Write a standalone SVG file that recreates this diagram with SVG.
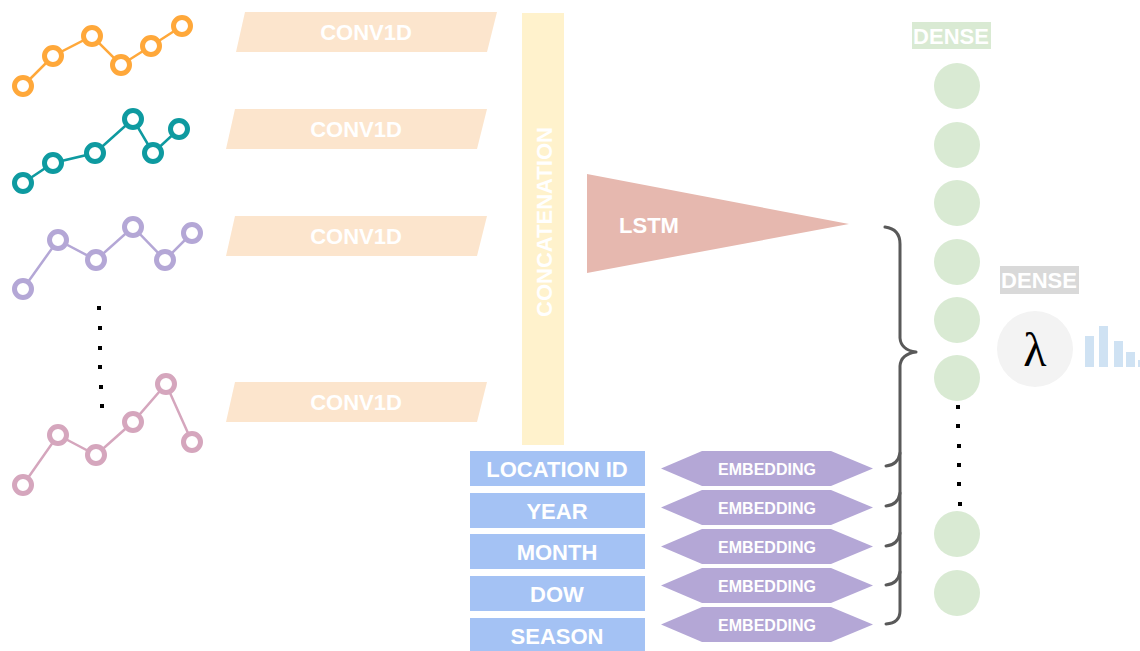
<svg xmlns="http://www.w3.org/2000/svg" width="1140" height="651" viewBox="0 0 1140 651">
<defs>
<style>
.t{font-family:"Liberation Sans",Arial,sans-serif;font-weight:bold;fill:#ffffff;text-anchor:middle;dominant-baseline:central}
.big{font-size:22px}
.emb{font-size:16px}
.conv{fill:#FCE5CD}
.blue{fill:#A4C2F4}
.hex{fill:#B4A7D6}
.green{fill:#D9EAD3}
.bar{fill:#CFE2F3}
.ser{fill:none;stroke-width:2.5}
.pt{fill:#ffffff;stroke-width:5}
.br{fill:none;stroke:#595959;stroke-width:3;stroke-linecap:round;stroke-linejoin:round}
.dot{fill:#000000}
</style>
</defs>
<rect width="1140" height="651" fill="#ffffff"/>

<g id="series1">
<polyline class="ser" stroke="#FFA83A" points="23,86 53,56 92,36 121,65 151,46 182,26"/>
<g class="pt" stroke="#FFA83A">
<circle cx="23" cy="86" r="8.5"/><circle cx="53" cy="56" r="8.5"/><circle cx="92" cy="36" r="8.5"/><circle cx="121" cy="65" r="8.5"/><circle cx="151" cy="46" r="8.5"/><circle cx="182" cy="26" r="8.5"/>
</g>
</g>
<g id="series2">
<polyline class="ser" stroke="#0E9AA0" points="23,183 53,163 95,153 133,119 153,153 179,129"/>
<g class="pt" stroke="#0E9AA0">
<circle cx="23" cy="183" r="8.5"/><circle cx="53" cy="163" r="8.5"/><circle cx="95" cy="153" r="8.5"/><circle cx="133" cy="119" r="8.5"/><circle cx="153" cy="153" r="8.5"/><circle cx="179" cy="129" r="8.5"/>
</g>
</g>
<g id="series3">
<polyline class="ser" stroke="#B4A7D6" points="23,289 58,240 96,260 133,227 165,260 192,233"/>
<g class="pt" stroke="#B4A7D6">
<circle cx="23" cy="289" r="8.5"/><circle cx="58" cy="240" r="8.5"/><circle cx="96" cy="260" r="8.5"/><circle cx="133" cy="227" r="8.5"/><circle cx="165" cy="260" r="8.5"/><circle cx="192" cy="233" r="8.5"/>
</g>
</g>
<g id="series-dots">
<rect class="dot" x="97" y="306" width="4" height="4"/><rect class="dot" x="98" y="326" width="4" height="4"/><rect class="dot" x="98" y="346" width="4" height="4"/><rect class="dot" x="98" y="365" width="4" height="4"/><rect class="dot" x="99" y="385" width="4" height="4"/><rect class="dot" x="100" y="404" width="4" height="4"/>
</g>
<g id="series4">
<polyline class="ser" stroke="#D5A6BD" points="23,485 58,435 96,455 133,422 166,384 192,442"/>
<g class="pt" stroke="#D5A6BD">
<circle cx="23" cy="485" r="8.5"/><circle cx="58" cy="435" r="8.5"/><circle cx="96" cy="455" r="8.5"/><circle cx="133" cy="422" r="8.5"/><circle cx="166" cy="384" r="8.5"/><circle cx="192" cy="442" r="8.5"/>
</g>
</g>

<g id="conv1">
<polygon class="conv" points="245,12 497,12 487,52 236,52"/>
<text class="t big" x="366" y="32">CONV1D</text>
</g>
<g id="conv2">
<polygon class="conv" points="235,109 487,109 477,149 226,149"/>
<text class="t big" x="356" y="129">CONV1D</text>
</g>
<g id="conv3">
<polygon class="conv" points="235,216 487,216 477,256 226,256"/>
<text class="t big" x="356" y="236">CONV1D</text>
</g>
<g id="conv4">
<polygon class="conv" points="235,382 487,382 477,422 226,422"/>
<text class="t big" x="356" y="402">CONV1D</text>
</g>

<g id="concatenation">
<rect x="522" y="13" width="42" height="432" fill="#FFF2CC"/>
<text class="t big" transform="translate(544,222) rotate(-90)">CONCATENATION</text>
</g>

<g id="lstm">
<polygon points="587,174 849,224 587,273" fill="#E6B8AF"/>
<text class="t big" x="649" y="225">LSTM</text>
</g>

<g id="in-location">
<rect class="blue" x="470" y="451" width="175" height="35"/>
<text class="t big" x="557" y="469">LOCATION ID</text>
</g>
<g id="in-year">
<rect class="blue" x="470" y="493" width="175" height="35"/>
<text class="t big" x="557" y="511">YEAR</text>
</g>
<g id="in-month">
<rect class="blue" x="470" y="534" width="175" height="35"/>
<text class="t big" x="557" y="552">MONTH</text>
</g>
<g id="in-dow">
<rect class="blue" x="470" y="576" width="175" height="35"/>
<text class="t big" x="557" y="594">DOW</text>
</g>
<g id="in-season">
<rect class="blue" x="470" y="618" width="175" height="35"/>
<text class="t big" x="557" y="636">SEASON</text>
</g>

<g id="emb1">
<polygon class="hex" points="661,468.5 702,451 831,451 873,468.5 831,486 702,486"/>
<text class="t emb" x="767" y="469">EMBEDDING</text>
</g>
<g id="emb2">
<polygon class="hex" points="661,507.5 702,490 831,490 873,507.5 831,525 702,525"/>
<text class="t emb" x="767" y="508">EMBEDDING</text>
</g>
<g id="emb3">
<polygon class="hex" points="661,546.5 702,529 831,529 873,546.5 831,564 702,564"/>
<text class="t emb" x="767" y="547">EMBEDDING</text>
</g>
<g id="emb4">
<polygon class="hex" points="661,585.5 702,568 831,568 873,585.5 831,603 702,603"/>
<text class="t emb" x="767" y="586">EMBEDDING</text>
</g>
<g id="emb5">
<polygon class="hex" points="661,624.5 702,607 831,607 873,624.5 831,642 702,642"/>
<text class="t emb" x="767" y="625">EMBEDDING</text>
</g>

<g id="connectors">
<path class="br" d="M885,227 Q900,229 900,244 L900,338 Q901,350 916,352 Q901,354 900,366 L900,611 Q900,623 886,624"/>
<path class="br" d="M886,466 Q898,465 900,453"/>
<path class="br" d="M886,506 Q898,505 900,493"/>
<path class="br" d="M886,546 Q898,545 900,533"/>
<path class="br" d="M886,585 Q898,584 900,572"/>
</g>

<g id="dense1">
<rect x="912" y="22" width="79" height="27" fill="#D9EAD3"/>
<text class="t big" x="951" y="36">DENSE</text>
<circle class="green" cx="957" cy="86" r="23"/>
<circle class="green" cx="957" cy="145" r="23"/>
<circle class="green" cx="957" cy="203" r="23"/>
<circle class="green" cx="957" cy="262" r="23"/>
<circle class="green" cx="957" cy="320" r="23"/>
<circle class="green" cx="957" cy="378" r="23"/>
<rect class="dot" x="956" y="405" width="4" height="4"/><rect class="dot" x="956" y="424" width="4" height="4"/><rect class="dot" x="957" y="444" width="4" height="4"/><rect class="dot" x="957" y="463" width="4" height="4"/><rect class="dot" x="957" y="482" width="4" height="4"/><rect class="dot" x="958" y="502" width="4" height="4"/>
<circle class="green" cx="957" cy="534" r="23"/>
<circle class="green" cx="957" cy="593" r="23"/>
</g>

<g id="dense2">
<rect x="1000" y="266" width="79" height="28" fill="#D9D9D9"/>
<text class="t big" x="1039" y="280">DENSE</text>
<circle cx="1035" cy="349" r="38" fill="#F3F3F3"/>
<text x="1035" y="349" font-family="'Liberation Serif','Times New Roman',serif" font-size="48" fill="#000000" text-anchor="middle" dominant-baseline="central">λ</text>
</g>

<g id="output-bars">
<rect class="bar" x="1085" y="336" width="9" height="31"/>
<rect class="bar" x="1099" y="326" width="9" height="41"/>
<rect class="bar" x="1114" y="341" width="9" height="26"/>
<rect class="bar" x="1126" y="352" width="9" height="15"/>
<rect class="bar" x="1138" y="360" width="4" height="7"/>
</g>
</svg>
